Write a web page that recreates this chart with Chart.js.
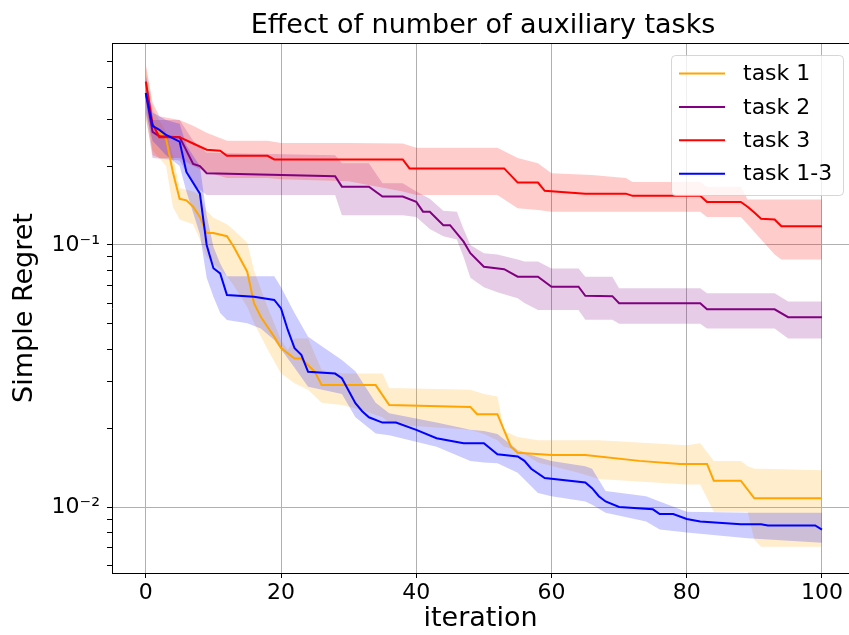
<!DOCTYPE html>
<html><head><meta charset="utf-8">
<script src="https://cdn.jsdelivr.net/npm/chart.js@4.4.0/dist/chart.umd.min.js"></script>
<style>html,body{margin:0;padding:0;background:#fff;overflow:hidden}#wrap{width:849px;height:635px}</style>
</head><body><div id="wrap"><canvas id="c" width="849" height="635"></canvas></div>
<script>
// ---------- data ----------
const chartTitle = 'Effect of number of auxiliary tasks';
const seriesNames = ['task 1', 'task 2', 'task 3', 'task 1-3'];
const xTickValues = [0, 20, 40, 60, 80, 100];
const yTickValues = [0.006,0.007,0.008,0.009,0.01,0.02,0.03,0.04,0.05,0.06,0.07,0.08,0.09,0.1,0.2,0.3,0.4,0.5];
const yLabelMap = {'0.01': '10\u207B\u00B2', '0.1': '10\u207B\u00B9'};

// task 1 (orange)
const task1Iter = [0,1,2,3,4,5,6,7,8,9,10,12,13,15,16,17,19,20,22,23,25,26,34,36,48,49,52,54,55,60,65,73,79,83,84,88,90,100];
const task1Mean = [0.38,0.29,0.27,0.255,0.19,0.15,0.148,0.14,0.128,0.111,0.111,0.108,0.0985,0.0791,0.06,0.0532,0.0446,0.0404,0.0369,0.0369,0.0328,0.0292,0.0292,0.0245,0.0241,0.0226,0.0226,0.017,0.0161,0.0158,0.0158,0.015,0.0146,0.0146,0.0126,0.0126,0.0108,0.0108];
const task1BandIter = [0,1,3,4,5,7,8,9,10,12,13,15,16,18,20,21,22,24,26,29,32,35,36,38,48,50,52,53,55,58,64,67,80,82,84,88,89,90,91,100];
const task1Upper = [0.48,0.33,0.27,0.22,0.165,0.16,0.155,0.135,0.127,0.12,0.114,0.102,0.08,0.058,0.0434,0.0397,0.044,0.044,0.0333,0.0323,0.0323,0.0323,0.0284,0.0284,0.028,0.027,0.0264,0.0195,0.0185,0.018,0.018,0.018,0.0172,0.0175,0.015,0.015,0.0143,0.014,0.014,0.0138];
const task1Lower = [0.30,0.23,0.2,0.14,0.125,0.12,0.105,0.09,0.085,0.076,0.07,0.058,0.0504,0.04,0.0323,0.031,0.0297,0.028,0.025,0.0245,0.0234,0.022,0.021,0.0205,0.0197,0.019,0.018,0.017,0.0165,0.0148,0.0135,0.0128,0.0122,0.0122,0.0096,0.0096,0.0096,0.0075,0.00705,0.00705];

// task 2 (purple)
const task2Iter = [0,1,2,5,7,8,9,28,29,33,35,38,40,41,42,44,45,47,48,50,53,55,58,60,64,65,69,70,82,83,93,95,100];
const task2Mean = [0.38,0.27,0.26,0.258,0.204,0.2,0.188,0.183,0.167,0.167,0.153,0.153,0.146,0.134,0.134,0.119,0.119,0.103,0.093,0.0826,0.0808,0.0757,0.0757,0.0693,0.0693,0.064,0.0638,0.0599,0.0599,0.0568,0.0568,0.053,0.053];
const task2BandIter = [0,1,5,7,9,28,29,33,35,38,40,42,44,46,47,48,50,52,55,56,58,60,64,65,69,70,82,83,93,95,100];
const task2Upper = [0.45,0.30,0.30,0.25,0.225,0.22,0.205,0.205,0.172,0.172,0.16,0.15,0.135,0.134,0.115,0.10,0.093,0.092,0.088,0.0864,0.0864,0.0814,0.0814,0.0757,0.0757,0.0684,0.0684,0.0654,0.0654,0.0608,0.0608];
const task2Lower = [0.31,0.215,0.21,0.17,0.155,0.155,0.13,0.13,0.13,0.13,0.128,0.115,0.108,0.105,0.09,0.075,0.069,0.066,0.0626,0.06,0.0565,0.0565,0.0565,0.0518,0.0518,0.05,0.05,0.048,0.048,0.044,0.044];

// task 3 (red)
const task3Iter = [0,1,2,5,7,9,11,12,18,19,38,39,53,55,58,59,65,71,72,82,83,88,89,90,91,93,94,100];
const task3Mean = [0.42,0.29,0.258,0.258,0.244,0.231,0.229,0.219,0.219,0.212,0.212,0.196,0.196,0.173,0.173,0.161,0.157,0.157,0.154,0.154,0.146,0.146,0.14,0.133,0.126,0.125,0.118,0.118];
const task3BandIter = [0,1,2,5,7,9,12,18,20,30,38,40,52,55,58,60,66,71,72,82,83,88,89,91,93,94,100];
const task3Upper = [0.49,0.35,0.31,0.30,0.285,0.268,0.25,0.25,0.245,0.245,0.244,0.235,0.235,0.215,0.205,0.188,0.185,0.18,0.174,0.174,0.167,0.167,0.149,0.149,0.149,0.149,0.149];
const task3Lower = [0.36,0.22,0.215,0.215,0.2,0.19,0.18,0.18,0.178,0.175,0.16,0.155,0.155,0.138,0.136,0.134,0.134,0.134,0.134,0.134,0.128,0.128,0.12,0.105,0.092,0.088,0.088];

// task 1-3 (blue)
const task4Iter = [0,1,2,3,5,6,8,9,10,11,12,16,19,20,21,22,23,24,28,29,31,32,33,35,37,40,43,47,50,52,55,56,57,59,65,66,67,68,70,75,76,78,80,82,88,91,92,99,100];
const task4Mean = [0.38,0.285,0.275,0.263,0.248,0.19,0.157,0.10,0.0815,0.0779,0.0644,0.0634,0.0617,0.0573,0.0474,0.0404,0.0381,0.0328,0.0323,0.031,0.0249,0.0232,0.022,0.021,0.021,0.0197,0.0183,0.0175,0.0175,0.0159,0.0156,0.015,0.014,0.0129,0.0124,0.0118,0.011,0.0105,0.01,0.0098,0.0094,0.0094,0.009,0.0088,0.0086,0.0086,0.0085,0.0085,0.0082];
const task4BandIter = [0,1,3,5,6,8,9,10,11,12,15,17,19,20,22,24,29,31,34,36,43,48,50,52,55,58,60,65,66,68,74,76,80,89,100];
const task4Upper = [0.44,0.32,0.30,0.29,0.24,0.2,0.13,0.0985,0.085,0.076,0.076,0.076,0.076,0.069,0.055,0.0446,0.0364,0.033,0.025,0.0228,0.021,0.0197,0.0195,0.019,0.0165,0.0155,0.015,0.0143,0.014,0.0115,0.011,0.0105,0.0096,0.0095,0.0095];
const task4Lower = [0.32,0.25,0.22,0.2,0.16,0.11,0.075,0.0634,0.055,0.0517,0.0503,0.048,0.0434,0.04,0.034,0.0288,0.027,0.022,0.0191,0.0188,0.017,0.015,0.0148,0.0147,0.0135,0.0113,0.011,0.0105,0.0102,0.0095,0.0088,0.0082,0.008,0.0076,0.0073];

// ---------- styling ----------
const lineColors = ['#FFA500', '#800080', '#FF0000', '#0000FF'];
const bandColors = ['rgba(255,165,0,0.2)', 'rgba(128,0,128,0.2)', 'rgba(255,0,0,0.2)', 'rgba(0,0,255,0.2)'];
const FONT = 'DejaVu Sans';

const series = [
  {it: task1Iter, m: task1Mean, bi: task1BandIter, hi: task1Upper, lo: task1Lower},
  {it: task2Iter, m: task2Mean, bi: task2BandIter, hi: task2Upper, lo: task2Lower},
  {it: task3Iter, m: task3Mean, bi: task3BandIter, hi: task3Upper, lo: task3Lower},
  {it: task4Iter, m: task4Mean, bi: task4BandIter, hi: task4Upper, lo: task4Lower}
];
const pts = (xs, ys) => xs.map((x, i) => ({x: x, y: ys[i]}));

const datasets = [];
series.forEach((s, k) => {
  datasets.push({label: seriesNames[k] + ' upper', data: pts(s.bi, s.hi), borderWidth: 0, pointRadius: 0, fill: false, order: 8 - k});
  datasets.push({label: seriesNames[k] + ' lower', data: pts(s.bi, s.lo), borderWidth: 0, pointRadius: 0, fill: '-1', backgroundColor: bandColors[k], order: 8 - k});
});
series.forEach((s, k) => {
  datasets.push({label: seriesNames[k], data: pts(s.it, s.m), borderColor: lineColors[k], borderWidth: 2, pointRadius: 0, fill: false, order: 4 - k, tension: 0});
});

const isMajor = v => Math.abs(Math.log10(v) - Math.round(Math.log10(v))) < 1e-9;

const framePlugin = {
  id: 'frameAndLegend',
  afterDraw(chart) {
    const ctx = chart.ctx, a = chart.chartArea;
    ctx.save();
    // title, centred over the (uncropped) axes box
    ctx.fillStyle = '#000';
    ctx.font = '27px "' + FONT + '"';
    ctx.textAlign = 'center';
    ctx.textBaseline = 'alphabetic';
    ctx.fillText(chartTitle, 483, 33);
    // top spine
    ctx.strokeStyle = '#000'; ctx.lineWidth = 1;
    ctx.beginPath(); ctx.moveTo(a.left, Math.round(a.top) + 0.5); ctx.lineTo(a.right, Math.round(a.top) + 0.5); ctx.stroke();
    // legend box
    const x0 = 671.5, y0 = 55.5, w = 172, h = 140;
    ctx.beginPath();
    ctx.roundRect(x0, y0, w, h, 4);
    ctx.fillStyle = 'rgba(255,255,255,0.8)'; ctx.fill();
    ctx.strokeStyle = 'rgba(204,204,204,0.8)'; ctx.stroke();
    ctx.font = '22px "' + FONT + '"';
    ctx.textBaseline = 'middle';
    ctx.textAlign = 'left';
    seriesNames.forEach((name, k) => {
      const y = 73.5 + k * 33.4;
      ctx.strokeStyle = lineColors[k]; ctx.lineWidth = 2;
      ctx.beginPath(); ctx.moveTo(679, y); ctx.lineTo(725, y); ctx.stroke();
      ctx.fillStyle = '#000';
      ctx.fillText(name, 743, y + 1);
    });
    ctx.restore();
  }
};

Chart.defaults.font.family = FONT;
new Chart(document.getElementById('c'), {
  type: 'line',
  data: {datasets: datasets},
  options: {
    responsive: false,
    animation: false,
    devicePixelRatio: 1,
    layout: {padding: {left: 0, right: 0, top: 43, bottom: 0}},
    plugins: {
      legend: {display: false},
      tooltip: {enabled: false},
      title: {display: false}
    },
    scales: {
      x: {
        type: 'linear', min: -5, max: 104,
        afterBuildTicks: s => { s.ticks = xTickValues.map(v => ({value: v})); },
        afterFit: s => { s.height = 62; },
        ticks: {color: '#000', font: {size: 22}, padding: 2, maxRotation: 0, autoSkip: false, callback: v => String(v)},
        grid: {color: '#b0b0b0', lineWidth: 1, tickColor: '#000', tickLength: 5},
        border: {color: '#000', width: 1},
        title: {display: true, text: 'iteration', color: '#000', font: {size: 27, lineHeight: 1.2}, padding: {top: 0, bottom: 0}}
      },
      y: {
        type: 'logarithmic', min: 0.0056, max: 0.59,
        afterBuildTicks: s => { s.ticks = yTickValues.map(v => ({value: v, major: isMajor(v)})); },
        afterFit: s => { s.width = 112; },
        ticks: {color: '#000', font: {size: 22}, padding: 7, autoSkip: false,
          callback: v => (isMajor(v) ? (yLabelMap[String(v)] || '') : '')},
        grid: {color: c => (c.tick && isMajor(c.tick.value)) ? '#b0b0b0' : 'rgba(0,0,0,0)', lineWidth: 1, tickColor: '#000', tickLength: 5},
        border: {color: '#000', width: 1},
        title: {display: true, text: 'Simple Regret', color: '#000', font: {size: 27, lineHeight: 1.2}, padding: {top: 9, bottom: 0}}
      }
    }
  },
  plugins: [framePlugin]
});
</script></body></html>
